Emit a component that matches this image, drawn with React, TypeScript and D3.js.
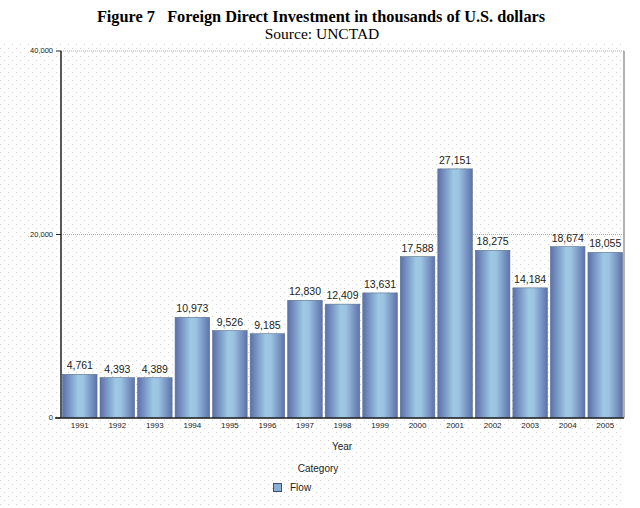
import * as d3 from "d3";
import React from "react";

// chart data
const years = ["1991", "1992", "1993", "1994", "1995", "1996", "1997", "1998", "1999", "2000", "2001", "2002", "2003", "2004", "2005"];
const flow = [4761, 4393, 4389, 10973, 9526, 9185, 12830, 12409, 13631, 17588, 27151, 18275, 14184, 18674, 18055];
const yTicks = [0, 20000, 40000];

const W = 640;
const H = 508;
const margin = { top: 51, right: 16, bottom: 90, left: 61 };

const App = (): React.ReactElement => {
  const innerW = W - margin.left - margin.right;
  const innerH = H - margin.top - margin.bottom;

  const xScale = d3.scaleBand<string>().domain(years).range([0, innerW]).paddingInner(0.08).paddingOuter(0.04);
  const yScale = d3.scaleLinear().domain([0, 40000]).range([innerH, 0]);
  const fmt = d3.format(",");
  const sans = "Arial, 'Liberation Sans', sans-serif";
  const serif = "'Liberation Serif', 'Times New Roman', serif";

  return (
    <svg width={W} height={H} style={{ position: "absolute", left: 0, top: 0, background: "#fff" }}>
      <defs>
        <pattern id="dots" width={8} height={8} patternUnits="userSpaceOnUse">
          <rect x={0} y={0} width={1} height={1} fill="#cfcfcf" />
          <rect x={4} y={4} width={1} height={1} fill="#cfcfcf" />
        </pattern>
        <linearGradient id="barGrad" x1="0" x2="1" y1="0" y2="0">
          <stop offset="0%" stopColor="#5c6fab" />
          <stop offset="45%" stopColor="#9ec8e4" />
          <stop offset="60%" stopColor="#9cc4e2" />
          <stop offset="100%" stopColor="#5e72ac" />
        </linearGradient>
      </defs>

      {/* background dots */}
      <rect x={0} y={44} width={margin.left + innerW} height={H - 44} fill="url(#dots)" />

      {/* title */}
      <text x={321} y={22} textAnchor="middle" fontFamily={serif} fontSize={16.3} fontWeight="bold">
        Figure 7{"\u00a0\u00a0\u00a0"}Foreign Direct Investment in thousands of U.S. dollars
      </text>
      <text x={322} y={39} textAnchor="middle" fontFamily={serif} fontSize={15.5}>
        Source: UNCTAD
      </text>

      <g transform={`translate(${margin.left},${margin.top})`}>
        {/* gridlines */}
        {yTicks.filter((t) => t > 0).map((t) => (
          <line key={t} x1={0} x2={innerW} y1={yScale(t)} y2={yScale(t)} stroke="#aaa" strokeWidth={1} strokeDasharray="1,1" />
        ))}
        <line x1={innerW} x2={innerW} y1={0} y2={innerH} stroke="#999" strokeWidth={1.5} />

        {/* bars */}
        {flow.map((v, i) => {
          const x = xScale(years[i]) as number;
          const y = yScale(v);
          return (
            <g key={years[i]}>
              <rect x={x} y={y} width={xScale.bandwidth()} height={innerH - y} fill="url(#barGrad)" stroke="#56708a" strokeWidth={0.6} />
              <text x={x + xScale.bandwidth() / 2} y={y - 5} textAnchor="middle" fontFamily={sans} fontSize={10.5} fill="#222">
                {fmt(v)}
              </text>
            </g>
          );
        })}

        {/* y axis */}
        <line x1={0} x2={0} y1={0} y2={innerH} stroke="#222" strokeWidth={1.5} />
        {yTicks.map((t) => (
          <g key={t} transform={`translate(0,${yScale(t)})`}>
            <line x1={-5} x2={0} stroke="#222" strokeWidth={1} />
            <text x={-8} dy="0.32em" textAnchor="end" fontFamily={sans} fontSize={7.5} fill="#222">
              {fmt(t)}
            </text>
          </g>
        ))}

        {/* x axis */}
        <line x1={-6} x2={innerW} y1={innerH} y2={innerH} stroke="#222" strokeWidth={1.5} />
        {years.map((yr) => (
          <text key={yr} x={(xScale(yr) as number) + xScale.bandwidth() / 2} y={innerH + 10} textAnchor="middle" fontFamily={sans} fontSize={8} fill="#222">
            {yr}
          </text>
        ))}

        <text x={281} y={innerH + 32} textAnchor="middle" fontFamily={sans} fontSize={10} fill="#222">
          Year
        </text>
      </g>

      {/* legend */}
      <text x={318} y={472} textAnchor="middle" fontFamily={sans} fontSize={10} fill="#222">
        Category
      </text>
      <rect x={273.5} y={483.5} width={8} height={8} fill="#8ab0d8" stroke="#3d4f7a" strokeWidth={1} />
      <text x={290} y={491} fontFamily={sans} fontSize={10} fill="#222">
        Flow
      </text>
    </svg>
  );
};

export default App;
